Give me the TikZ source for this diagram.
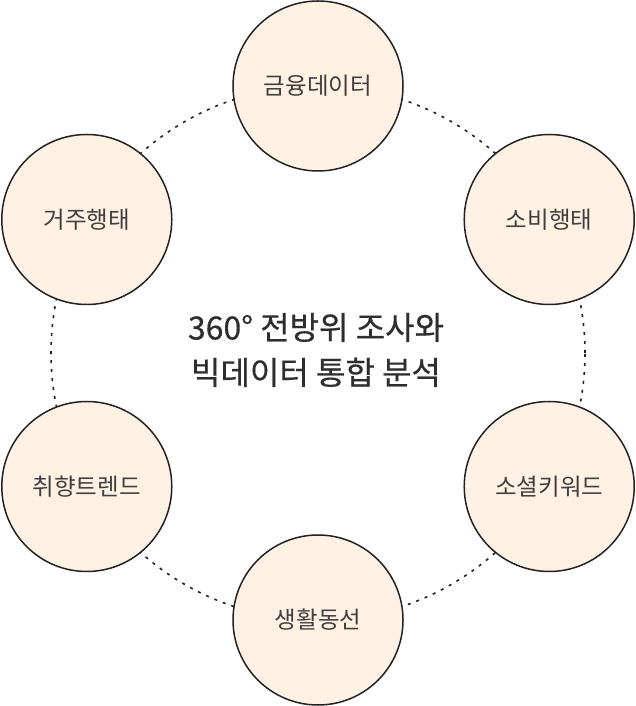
\documentclass[tikz,border=0pt]{standalone}
\usepackage{fontspec}
\usetikzlibrary{calc}
\setmainfont{Noto Sans CJK KR}
\newfontfamily\ctrfont[FakeBold=0.5]{Noto Sans CJK KR}
\definecolor{fillc}{HTML}{FFF1E3}
\definecolor{edgec}{HTML}{222222}
\definecolor{txtc}{HTML}{3F3F3F}
\definecolor{ctrc}{HTML}{2E2E2E}
\begin{document}
\begin{tikzpicture}[x=1pt,y=1pt,
  topic/.style={circle,draw=edgec,line width=1.5pt,fill=fillc,minimum size=170pt,inner sep=0pt,text=txtc,font=\fontsize{23.5}{28}\selectfont},
  ring/.style={draw=edgec,line width=1.6pt,dash pattern=on 3pt off 6pt}]
\useasboundingbox (0,0) rectangle (635,706);
\coordinate (c) at (318,353);
\draw[ring] (c) circle (267);
\node[topic] (t1) at ($(c)+(90:267)$) {금융데이터};
\node[topic] (t2) at ($(c)+(30:267)$) {소비행태};
\node[topic] (t3) at ($(c)+(-30:267)$) {소셜키워드};
\node[topic] (t4) at ($(c)+(-90:267)$) {생활동선};
\node[topic] (t5) at ($(c)+(-150:267)$) {취향트렌드};
\node[topic] (t6) at ($(c)+(150:267)$) {거주행태};
\node[align=center,text=ctrc,font=\ctrfont\fontsize{32}{45}\selectfont] (ctr) at (316,356) {360° 전방위 조사와\\빅데이터 통합 분석};
\end{tikzpicture}
\end{document}
